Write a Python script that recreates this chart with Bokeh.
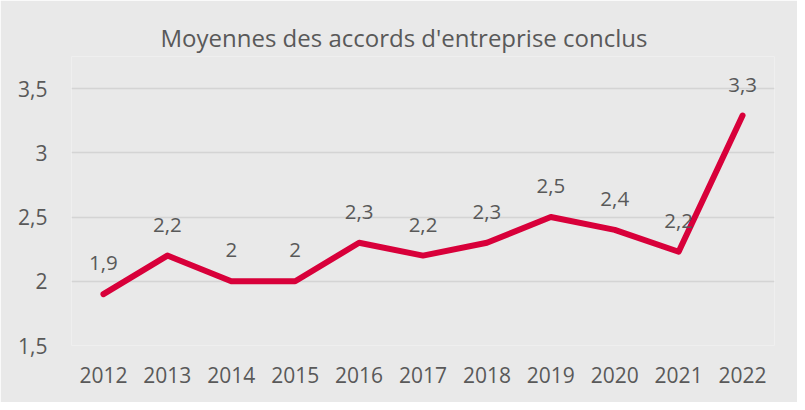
from bokeh.plotting import figure
from bokeh.models import FixedTicker, CustomJSTickFormatter, ColumnDataSource, Range1d
from bokeh.core.properties import value
from bokeh.embed import file_html
from bokeh.resources import INLINE

years = ["2012", "2013", "2014", "2015", "2016", "2017", "2018", "2019", "2020", "2021", "2022"]
moyennes = [1.9, 2.2, 2.0, 2.0, 2.3, 2.2, 2.3, 2.5, 2.4, 2.23, 3.29]
etiquettes = ["1,9", "2,2", "2", "2", "2,3", "2,2", "2,3", "2,5", "2,4", "2,2", "3,3"]
y_ticks = [1.5, 2, 2.5, 3, 3.5]

FONT = "Open Sans"
TXT = "#595959"
BG = "#E9E9E9"

src = ColumnDataSource(dict(x=years, y=moyennes, lab=etiquettes))

p = figure(x_range=years, y_range=Range1d(1.5, 3.75), width=797, height=402,
           output_backend="svg", toolbar_location=None,
           min_border_left=71, min_border_right=23, min_border_top=56, min_border_bottom=57,
           background_fill_color=BG, border_fill_color=BG, outline_line_color=None)

p.title.text = "Moyennes des accords d'entreprise conclus"
p.title.align = "left"
p.title.offset = 89
p.title.standoff = 6
p.title.text_font = FONT
p.title.text_font_size = "24px"
p.title.text_font_style = "normal"
p.title.text_color = TXT

p.line("x", "y", source=src, line_color="#D8003A", line_width=6, line_join="round", line_cap="round")
p.text("x", "y", text="lab", source=src, y_offset=-31, text_align="center", text_baseline="middle",
       text_font=value(FONT), text_font_size="20.5px", text_color=TXT)

p.yaxis.ticker = FixedTicker(ticks=y_ticks)
p.yaxis.formatter = CustomJSTickFormatter(code="return tick.toString().replace('.', ',');")
for ax in (p.xaxis, p.yaxis):
    ax.axis_line_color = None
    ax.major_tick_line_color = None
    ax.minor_tick_line_color = None
    ax.major_tick_out = 0
    ax.major_tick_in = 0
    ax.major_label_text_font = FONT
    ax.major_label_text_font_size = "21px"
    ax.major_label_text_color = TXT
p.yaxis.major_label_standoff = 24
p.xaxis.major_label_standoff = 21

p.xgrid.grid_line_color = None
p.ygrid.ticker = FixedTicker(ticks=y_ticks)
p.ygrid.grid_line_color = "#D4D4D4"
p.ygrid.grid_line_width = 1.5

open("out.html", "w").write(file_html(p, INLINE))
